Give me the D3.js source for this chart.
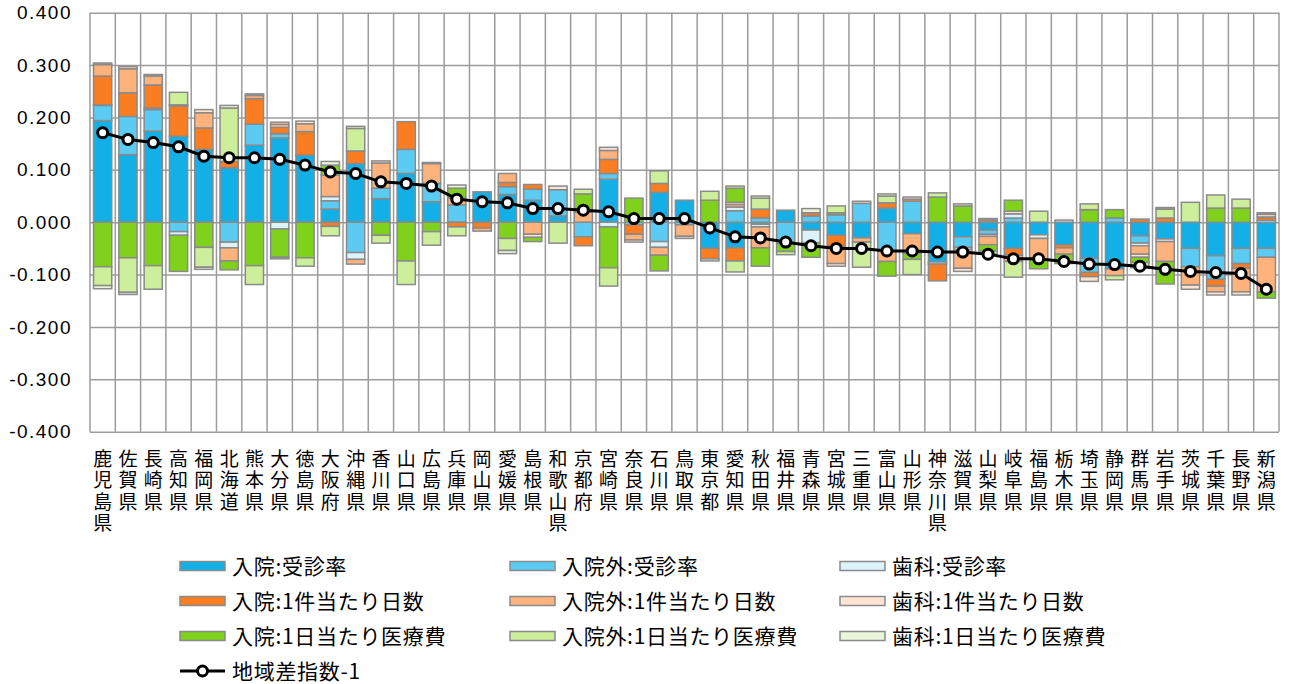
<!DOCTYPE html>
<html>
<head>
<meta charset="utf-8">
<script src="https://cdn.jsdelivr.net/npm/d3@7"></script>
<style>
  body { margin: 0; background: #fff; }
  svg { display: block; }
  .ylab { font-family: "Liberation Sans", Arial, sans-serif; font-size: 19px; letter-spacing: 1.5px; fill: #000; }
  .xlab { font-family: "Noto Sans CJK JP", sans-serif; font-size: 19px; fill: #000;
          writing-mode: vertical-rl; text-orientation: upright; letter-spacing: 2.5px; }
  .leg { font-family: "Noto Sans CJK JP", sans-serif; font-size: 21px; letter-spacing: 0.7px; fill: #000; }
</style>
</head>
<body>
<svg id="chart" width="1290" height="684"></svg>
<script>
// prefectures, sorted by 地域差指数
var prefectures = ["鹿児島県","佐賀県","長崎県","高知県","福岡県","北海道","熊本県","大分県","徳島県","大阪府",
    "沖縄県","香川県","山口県","広島県","兵庫県","岡山県","愛媛県","島根県","和歌山県","京都府",
    "宮崎県","奈良県","石川県","鳥取県","東京都","愛知県","秋田県","福井県","青森県","宮城県",
    "三重県","富山県","山形県","神奈川県","滋賀県","山梨県","岐阜県","福島県","栃木県","埼玉県",
    "静岡県","群馬県","岩手県","茨城県","千葉県","長野県","新潟県"];

var seriesNames = ["入院:受診率","入院外:受診率","歯科:受診率",
    "入院:1件当たり日数","入院外:1件当たり日数","歯科:1件当たり日数",
    "入院:1日当たり医療費","入院外:1日当たり医療費","歯科:1日当たり医療費"];
var lineName = "地域差指数-1";

var inRate = [0.194,0.129,0.174,0.164,0.139,0.104,0.147,0.161,0.128,0.025,
    0.112,0.045,0.093,0.039,0.000,0.058,0.053,0.042,0.012,0.000,
    0.082,0.000,0.057,0.042,-0.050,-0.049,-0.004,0.023,-0.015,-0.025,
    -0.030,0.027,-0.022,-0.076,-0.028,-0.015,-0.050,-0.024,-0.043,-0.069,
    -0.089,-0.026,-0.032,-0.050,-0.064,-0.050,-0.050];
var outRate = [0.029,0.073,0.041,-0.018,0.000,-0.038,0.040,0.008,0.000,0.016,
    -0.058,0.020,0.046,0.035,0.033,0.000,0.015,0.021,0.050,-0.028,
    0.011,-0.005,-0.037,-0.005,0.000,0.022,0.008,-0.041,0.012,0.014,
    0.036,-0.055,0.040,0.000,-0.020,-0.008,0.008,0.000,0.000,-0.027,
    0.008,-0.014,0.000,-0.035,-0.045,-0.029,-0.017];
var dentRate = [0.001,0.000,0.003,-0.007,0.000,-0.011,0.000,-0.013,0.000,0.008,
    -0.013,0.000,0.000,0.000,0.000,0.000,0.000,0.000,0.000,0.000,
    -0.009,0.000,-0.011,0.000,0.000,0.007,-0.005,0.000,-0.024,0.000,
    0.000,0.000,0.000,-0.004,-0.004,-0.004,0.008,-0.007,0.000,0.000,
    0.000,-0.005,-0.005,0.000,0.000,0.000,0.004];
var inDays = [0.055,0.045,0.044,0.058,0.041,0.012,0.049,0.012,0.045,-0.008,
    0.024,0.000,0.053,0.000,-0.009,-0.011,0.008,0.009,0.000,-0.017,
    0.027,-0.018,0.017,0.000,-0.020,-0.025,0.017,0.000,0.006,-0.021,
    0.000,0.010,0.004,-0.032,0.000,0.004,-0.013,0.000,-0.006,-0.008,
    0.000,0.006,0.008,0.000,-0.013,-0.009,0.006];
var outDays = [0.022,0.046,0.017,0.000,0.029,-0.025,0.006,0.006,0.015,0.041,
    -0.009,0.048,0.000,0.038,0.013,-0.006,0.017,-0.023,0.000,0.019,
    0.017,-0.011,-0.015,-0.022,0.000,0.005,-0.040,0.000,0.000,-0.033,
    -0.008,-0.020,-0.038,0.000,-0.036,-0.016,-0.012,-0.041,-0.012,0.000,
    -0.013,-0.016,-0.038,-0.035,-0.011,-0.045,-0.066];
var dentDays = [0.003,0.004,0.003,0.002,0.006,0.000,0.003,0.004,0.005,0.000,
    0.000,0.004,0.000,0.002,0.000,0.000,0.000,-0.006,0.007,0.000,
    0.006,-0.004,0.000,-0.004,-0.004,0.004,0.000,0.000,0.000,-0.005,
    0.004,0.000,0.004,0.000,-0.006,0.003,0.005,0.000,0.004,-0.009,
    0.000,-0.006,0.000,-0.008,-0.006,-0.006,0.005];
var inCost = [-0.085,-0.068,-0.083,-0.069,-0.048,-0.017,-0.083,-0.054,-0.068,0.019,
    0.000,-0.025,-0.074,-0.018,0.019,0.000,-0.031,-0.008,0.000,0.035,
    -0.078,0.046,-0.030,0.000,0.042,0.027,-0.035,-0.015,-0.028,0.004,
    0.000,-0.028,-0.011,0.048,0.031,-0.012,0.021,-0.017,-0.018,0.024,
    0.016,-0.010,-0.043,0.000,0.027,0.027,-0.012];
var outCost = [-0.036,-0.066,-0.045,0.024,-0.038,0.102,-0.036,0.000,-0.016,-0.018,
    0.043,-0.015,-0.045,-0.026,-0.017,0.000,-0.023,0.000,-0.040,0.009,
    -0.035,0.000,0.024,0.000,0.017,-0.021,0.021,-0.006,0.000,0.013,
    -0.048,0.013,-0.029,0.008,0.000,-0.006,-0.030,0.021,0.000,0.011,
    -0.008,-0.010,0.017,0.038,0.025,0.017,0.000];
var dentCost = [-0.006,-0.004,0.000,0.000,-0.004,0.005,0.000,-0.003,0.000,0.007,
    0.004,0.000,0.000,0.000,0.006,0.000,-0.006,0.000,0.000,0.000,
    0.000,0.000,0.000,0.000,0.000,0.004,0.004,0.000,0.008,0.000,
    0.000,0.004,0.000,0.000,0.004,0.000,0.000,0.000,0.000,0.000,
    0.000,0.000,0.003,0.000,0.000,0.000,0.003];
var indexMinus1 = [0.171,0.158,0.152,0.144,0.126,0.123,0.123,0.120,0.109,0.096,
    0.093,0.077,0.074,0.069,0.044,0.039,0.037,0.026,0.026,0.023,
    0.020,0.007,0.007,0.007,-0.011,-0.028,-0.030,-0.038,-0.045,-0.050,
    -0.050,-0.055,-0.055,-0.057,-0.057,-0.061,-0.070,-0.070,-0.075,-0.080,
    -0.081,-0.084,-0.090,-0.094,-0.096,-0.098,-0.128];

var yTicks = [-0.4,-0.3,-0.2,-0.1,0,0.1,0.2,0.3,0.4];

var seriesColors = ["#12b0e6","#5ccbf3","#ddf3fc","#fb7d21","#ffb27c","#ffe4d2","#7fd11c","#cdee9a","#eaf6dc"];
var segStroke = "#8a8a8a";
var gridColor = "#9c9c9c";

var allSeries = [inRate,outRate,dentRate,inDays,outDays,dentDays,inCost,outCost,dentCost];

var svg = d3.select("#chart");
var plot = {left: 90, right: 1279, top: 12.7, bottom: 431.7};

var x = d3.scaleBand()
    .domain(prefectures)
    .range([plot.left, plot.right])
    .paddingInner(0.28)
    .paddingOuter(0.14);

var y = d3.scaleLinear()
    .domain([-0.4, 0.4])
    .range([plot.bottom, plot.top]);

// table for d3.stack
var table = prefectures.map(function(p, i) {
    var row = {name: p};
    seriesNames.forEach(function(s, k) { row[s] = allSeries[k][i]; });
    return row;
});

var stacked = d3.stack()
    .keys(seriesNames)
    .offset(d3.stackOffsetDiverging)(table);

// horizontal grid + y labels
svg.append("g")
    .attr("transform", "translate(" + plot.left + ",0)")
    .call(d3.axisLeft(y)
        .tickValues(yTicks)
        .tickSize(-(plot.right - plot.left))
        .tickPadding(18)
        .tickFormat(function(d) { return d.toFixed(3); }))
    .call(function(g) {
        g.select(".domain").remove();
        g.selectAll("line").attr("stroke", gridColor).attr("stroke-width", 1.5);
        g.selectAll("text").attr("class", "ylab").attr("font-size", null).attr("font-family", null);
    });

// vertical grid at band boundaries
var boundaries = d3.range(prefectures.length + 1);
svg.append("g")
    .selectAll("line")
    .data(boundaries)
    .enter()
    .append("line")
    .attr("x1", function(d) { return plot.left + d * x.step(); })
    .attr("x2", function(d) { return plot.left + d * x.step(); })
    .attr("y1", plot.top)
    .attr("y2", plot.bottom)
    .attr("stroke", gridColor)
    .attr("stroke-width", 1.5);

// stacked bars
svg.append("g")
    .selectAll("g")
    .data(stacked)
    .enter()
    .append("g")
    .attr("fill", function(d, k) { return seriesColors[k]; })
    .selectAll("rect")
    .data(function(d) { return d.filter(function(s) { return s[1] - s[0] !== 0; }); })
    .enter()
    .append("rect")
    .attr("x", function(d) { return x(d.data.name); })
    .attr("width", x.bandwidth())
    .attr("y", function(d) { return y(d[1]); })
    .attr("height", function(d) { return y(d[0]) - y(d[1]); })
    .attr("stroke", segStroke)
    .attr("stroke-width", 1.5);

// index line
var line = d3.line()
    .x(function(d, i) { return x(prefectures[i]) + x.bandwidth() / 2; })
    .y(function(d) { return y(d); });

svg.append("path")
    .datum(indexMinus1)
    .attr("fill", "none")
    .attr("stroke", "#000")
    .attr("stroke-width", 3)
    .attr("d", line);

svg.append("g")
    .selectAll("circle")
    .data(indexMinus1)
    .enter()
    .append("circle")
    .attr("cx", function(d, i) { return x(prefectures[i]) + x.bandwidth() / 2; })
    .attr("cy", function(d) { return y(d); })
    .attr("r", 5)
    .attr("fill", "#fff")
    .attr("stroke", "#000")
    .attr("stroke-width", 3);

// x labels, written top to bottom
svg.append("g")
    .selectAll("text")
    .data(prefectures)
    .enter()
    .append("text")
    .attr("class", "xlab")
    .attr("x", function(d) { return x(d) + x.bandwidth() / 2; })
    .attr("y", 449)
    .text(function(d) { return d; });

// legend
var legendCols = [180, 510, 840];
var legendRows = [566, 601, 636, 671];
var legend = svg.append("g");

seriesNames.forEach(function(s, k) {
    var lx = legendCols[k % 3], ly = legendRows[Math.floor(k / 3)];
    legend.append("rect")
        .attr("x", lx)
        .attr("y", ly - 4.5)
        .attr("width", 45)
        .attr("height", 9)
        .attr("fill", seriesColors[k])
        .attr("stroke", segStroke)
        .attr("stroke-width", 1.5);
    legend.append("text")
        .attr("class", "leg")
        .attr("x", lx + 52)
        .attr("y", ly + 8)
        .text(s);
});

legend.append("line")
    .attr("x1", legendCols[0]).attr("x2", legendCols[0] + 45)
    .attr("y1", legendRows[3]).attr("y2", legendRows[3])
    .attr("stroke", "#000").attr("stroke-width", 3);
legend.append("circle")
    .attr("cx", legendCols[0] + 22.5).attr("cy", legendRows[3])
    .attr("r", 5).attr("fill", "#fff").attr("stroke", "#000").attr("stroke-width", 3);
legend.append("text")
    .attr("class", "leg")
    .attr("x", legendCols[0] + 52)
    .attr("y", legendRows[3] + 8)
    .text(lineName);
</script>
</body>
</html>
